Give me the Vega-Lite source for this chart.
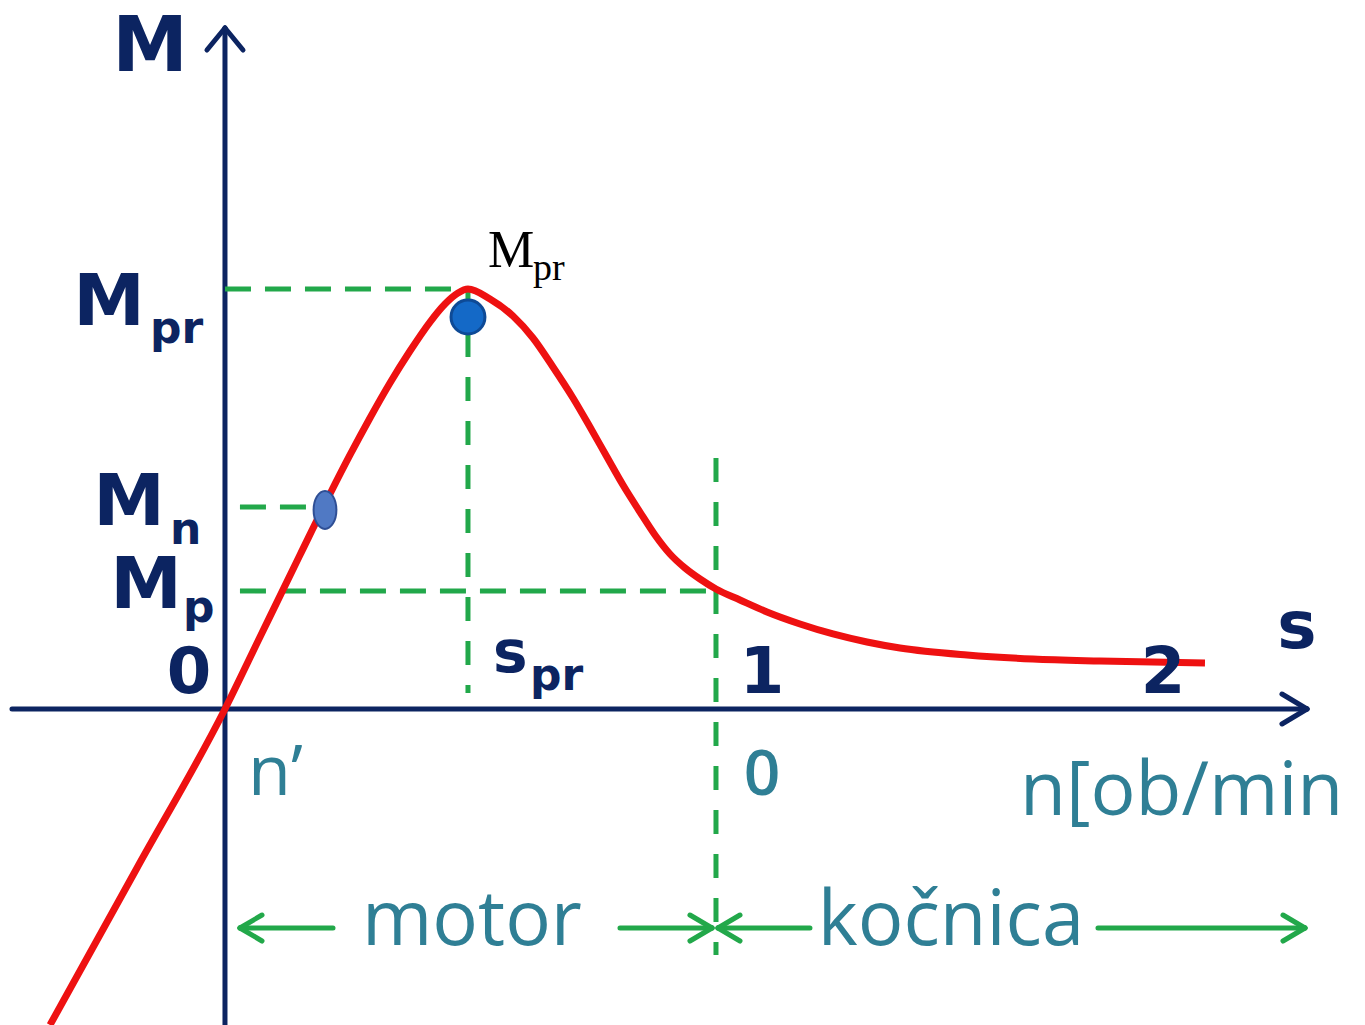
{
  "$schema": "https://vega.github.io/schema/vega-lite/v6.json",
  "width": 1365,
  "height": 1025,
  "padding": 0,
  "autosize": {"type": "none"},
  "background": "white",
  "config": {"view": {"stroke": null}},
  "datasets": {
    "curve": [
      {"s": -0.3564, "M": -0.7524},
      {"s": -0.1792, "M": -0.3786},
      {"s": 0, "M": 0},
      {"s": 0.0713, "M": 0.1714},
      {"s": 0.1527, "M": 0.3667},
      {"s": 0.2138, "M": 0.5119},
      {"s": 0.2546, "M": 0.6048},
      {"s": 0.2953, "M": 0.6929},
      {"s": 0.336, "M": 0.7762},
      {"s": 0.3768, "M": 0.8524},
      {"s": 0.4175, "M": 0.9214},
      {"s": 0.4481, "M": 0.9643},
      {"s": 0.4745, "M": 0.9905},
      {"s": 0.4949, "M": 1.0},
      {"s": 0.5397, "M": 0.9762},
      {"s": 0.5866, "M": 0.9357},
      {"s": 0.6273, "M": 0.8833},
      {"s": 0.668, "M": 0.8143},
      {"s": 0.7088, "M": 0.7405},
      {"s": 0.7434, "M": 0.6714},
      {"s": 0.778, "M": 0.6},
      {"s": 0.8106, "M": 0.5333},
      {"s": 0.8452, "M": 0.469},
      {"s": 0.8758, "M": 0.4143},
      {"s": 0.9063, "M": 0.369},
      {"s": 0.9369, "M": 0.3357},
      {"s": 0.9674, "M": 0.3095},
      {"s": 1.0, "M": 0.2857},
      {"s": 1.0489, "M": 0.2595},
      {"s": 1.1039, "M": 0.231},
      {"s": 1.1711, "M": 0.2024},
      {"s": 1.2383, "M": 0.1786},
      {"s": 1.3075, "M": 0.1595},
      {"s": 1.3747, "M": 0.1452},
      {"s": 1.5112, "M": 0.1286},
      {"s": 1.6456, "M": 0.119},
      {"s": 1.7821, "M": 0.1143},
      {"s": 1.9959, "M": 0.1095}
    ],
    "segments": [
      {"kind": "axis", "s": -0.4338, "s2": 2.2037, "M": 0, "M2": 0},
      {"kind": "axis", "s": 0, "s2": 0, "M": -0.7524, "M2": 1.6214},
      {"kind": "axis", "s": 2.1527, "s2": 2.2037, "M": 0.0357, "M2": 0},
      {"kind": "axis", "s": 2.1527, "s2": 2.2037, "M": -0.0357, "M2": 0},
      {"kind": "axis", "s": -0.0367, "s2": 0, "M": 1.569, "M2": 1.6214},
      {"kind": "axis", "s": 0.0367, "s2": 0, "M": 1.569, "M2": 1.6214},
      {"kind": "dashH", "s": 0, "s2": 0.4949, "M": 1, "M2": 1},
      {"kind": "dashH", "s": 0.0305, "s2": 0.2037, "M": 0.481, "M2": 0.481},
      {"kind": "dashH", "s": 0.0305, "s2": 1.0, "M": 0.281, "M2": 0.281},
      {"kind": "dashV", "s": 0.4949, "s2": 0.4949, "M": 1, "M2": 0.038},
      {"kind": "dashV", "s": 1.0, "s2": 1.0, "M": 0.5976, "M2": -0.5857},
      {"kind": "arrow", "s": 0.0305, "s2": 0.22, "M": -0.5214, "M2": -0.5214},
      {"kind": "arrow", "s": 0.0754, "s2": 0.0305, "M": -0.4905, "M2": -0.5214},
      {"kind": "arrow", "s": 0.0754, "s2": 0.0305, "M": -0.5524, "M2": -0.5214},
      {"kind": "arrow", "s": 0.8045, "s2": 0.9919, "M": -0.5214, "M2": -0.5214},
      {"kind": "arrow", "s": 0.947, "s2": 0.9919, "M": -0.4905, "M2": -0.5214},
      {"kind": "arrow", "s": 0.947, "s2": 0.9919, "M": -0.5524, "M2": -0.5214},
      {"kind": "arrow", "s": 1.0041, "s2": 1.1914, "M": -0.5214, "M2": -0.5214},
      {"kind": "arrow", "s": 1.0489, "s2": 1.0041, "M": -0.4905, "M2": -0.5214},
      {"kind": "arrow", "s": 1.0489, "s2": 1.0041, "M": -0.5524, "M2": -0.5214},
      {"kind": "arrow", "s": 1.778, "s2": 2.1996, "M": -0.5214, "M2": -0.5214},
      {"kind": "arrow", "s": 2.1548, "s2": 2.1996, "M": -0.4905, "M2": -0.5214},
      {"kind": "arrow", "s": 2.1548, "s2": 2.1996, "M": -0.5524, "M2": -0.5214}
    ],
    "points": [
      {"kind": "max", "s": 0.4949, "M": 0.9333},
      {"kind": "nominal", "s": 0.2037, "M": 0.474}
    ],
    "labels": [
      {"kind": "bigM", "text": "M", "s": -0.1527, "M": 1.519},
      {"kind": "leftM", "text": "M", "s": -0.163, "M": 0.914},
      {"kind": "leftM", "text": "M", "s": -0.1222, "M": 0.438},
      {"kind": "leftM", "text": "M", "s": -0.0876, "M": 0.240},
      {"kind": "leftSub", "text": "pr", "s": -0.1527, "M": 0.871},
      {"kind": "leftSub", "text": "n", "s": -0.112, "M": 0.392},
      {"kind": "leftSub", "text": "p", "s": -0.0855, "M": 0.207},
      {"kind": "digit", "text": "0", "s": -0.0733, "M": 0.038},
      {"kind": "digit", "text": "1", "s": 1.0937, "M": 0.038},
      {"kind": "digit", "text": "2", "s": 1.9104, "M": 0.038},
      {"kind": "sAxis", "text": "s", "s": 2.1833, "M": 0.145},
      {"kind": "sMain", "text": "s", "s": 0.5458, "M": 0.0881},
      {"kind": "sSub", "text": "pr", "s": 0.6212, "M": 0.045},
      {"kind": "teal", "text": "n\u2019", "s": 0.047, "M": -0.2048},
      {"kind": "tealDigit", "text": "0", "s": 1.0937, "M": -0.2048},
      {"kind": "tealWide", "text": "n[ob/min", "s": 1.6191, "M": -0.2524},
      {"kind": "tealBig", "text": "motor", "s": 0.503, "M": -0.5619},
      {"kind": "tealBig", "text": "ko\u010dnica", "s": 1.4786, "M": -0.5619},
      {"kind": "serifM", "text": "M", "s": 0.5356, "M": 1.0524},
      {"kind": "serifSub", "text": "pr", "s": 0.6273, "M": 1.0214}
    ]
  },
  "encoding": {
    "x": {"field": "s", "type": "quantitative", "scale": {"domain": [-0.4582, 2.3218], "nice": false, "zero": false}, "axis": null},
    "y": {"field": "M", "type": "quantitative", "scale": {"domain": [-0.7524, 1.6881], "nice": false, "zero": false}, "axis": null}
  },
  "layer": [
    {
      "data": {"name": "segments"},
      "transform": [{"filter": "datum.kind === 'axis'"}],
      "mark": {"type": "rule", "color": "#0c2461", "strokeWidth": 5, "strokeCap": "round"},
      "encoding": {"x2": {"field": "s2"}, "y2": {"field": "M2"}}
    },
    {
      "data": {"name": "segments"},
      "transform": [{"filter": "datum.kind === 'dashH'"}],
      "mark": {"type": "rule", "color": "#22a84a", "strokeWidth": 5, "strokeDash": [26, 14]},
      "encoding": {"x2": {"field": "s2"}, "y2": {"field": "M2"}}
    },
    {
      "data": {"name": "segments"},
      "transform": [{"filter": "datum.kind === 'dashV'"}],
      "mark": {"type": "rule", "color": "#22a84a", "strokeWidth": 5, "strokeDash": [24, 20]},
      "encoding": {"x2": {"field": "s2"}, "y2": {"field": "M2"}}
    },
    {
      "data": {"name": "segments"},
      "transform": [{"filter": "datum.kind === 'arrow'"}],
      "mark": {"type": "rule", "color": "#22a84a", "strokeWidth": 5, "strokeCap": "round"},
      "encoding": {"x2": {"field": "s2"}, "y2": {"field": "M2"}}
    },
    {
      "data": {"name": "curve"},
      "mark": {"type": "line", "color": "#ee1111", "strokeWidth": 7, "interpolate": "monotone", "strokeJoin": "round"},
      "encoding": {}
    },
    {
      "data": {"name": "points"},
      "transform": [{"filter": "datum.kind === 'max'"}],
      "mark": {"type": "point", "shape": "circle", "filled": true, "fill": "#1469c7", "stroke": "#0e4a96", "strokeWidth": 3, "size": 1150, "opacity": 1}
    },
    {
      "data": {"name": "points"},
      "transform": [{"filter": "datum.kind === 'nominal'"}],
      "mark": {"type": "point", "shape": "M -0.6 0 A 0.6 1 0 1 0 0.6 0 A 0.6 1 0 1 0 -0.6 0 Z", "filled": true, "fill": "#5079c4", "stroke": "#2f4f95", "strokeWidth": 2, "size": 1444, "opacity": 1}
    },
    {
      "data": {"name": "labels"},
      "transform": [{"filter": "datum.kind === 'bigM'"}],
      "mark": {"type": "text", "font": "DejaVu Sans", "fontWeight": "bold", "fontSize": 76, "color": "#0c2461", "align": "center", "baseline": "alphabetic"},
      "encoding": {"text": {"field": "text"}}
    },
    {
      "data": {"name": "labels"},
      "transform": [{"filter": "datum.kind === 'leftM'"}],
      "mark": {"type": "text", "font": "DejaVu Sans", "fontWeight": "bold", "fontSize": 72, "color": "#0c2461", "align": "right", "baseline": "alphabetic"},
      "encoding": {"text": {"field": "text"}}
    },
    {
      "data": {"name": "labels"},
      "transform": [{"filter": "datum.kind === 'leftSub'"}],
      "mark": {"type": "text", "font": "DejaVu Sans", "fontWeight": "bold", "fontSize": 44, "color": "#0c2461", "align": "left", "baseline": "alphabetic"},
      "encoding": {"text": {"field": "text"}}
    },
    {
      "data": {"name": "labels"},
      "transform": [{"filter": "datum.kind === 'digit'"}],
      "mark": {"type": "text", "font": "DejaVu Sans", "fontWeight": "bold", "fontSize": 64, "color": "#0c2461", "align": "center", "baseline": "alphabetic"},
      "encoding": {"text": {"field": "text"}}
    },
    {
      "data": {"name": "labels"},
      "transform": [{"filter": "datum.kind === 'sAxis'"}],
      "mark": {"type": "text", "font": "DejaVu Sans", "fontWeight": "bold", "fontSize": 66, "color": "#0c2461", "align": "center", "baseline": "alphabetic"},
      "encoding": {"text": {"field": "text"}}
    },
    {
      "data": {"name": "labels"},
      "transform": [{"filter": "datum.kind === 'sMain'"}],
      "mark": {"type": "text", "font": "DejaVu Sans", "fontWeight": "bold", "fontSize": 58, "color": "#0c2461", "align": "left", "baseline": "alphabetic"},
      "encoding": {"text": {"field": "text"}}
    },
    {
      "data": {"name": "labels"},
      "transform": [{"filter": "datum.kind === 'sSub'"}],
      "mark": {"type": "text", "font": "DejaVu Sans", "fontWeight": "bold", "fontSize": 44, "color": "#0c2461", "align": "left", "baseline": "alphabetic"},
      "encoding": {"text": {"field": "text"}}
    },
    {
      "data": {"name": "labels"},
      "transform": [{"filter": "datum.kind === 'teal'"}],
      "mark": {"type": "text", "font": "Open Sans", "fontSize": 70, "color": "#2f7f95", "align": "left", "baseline": "alphabetic"},
      "encoding": {"text": {"field": "text"}}
    },
    {
      "data": {"name": "labels"},
      "transform": [{"filter": "datum.kind === 'tealWide'"}],
      "mark": {"type": "text", "font": "Open Sans", "fontSize": 75, "color": "#2f7f95", "align": "left", "baseline": "alphabetic"},
      "encoding": {"text": {"field": "text"}}
    },
    {
      "data": {"name": "labels"},
      "transform": [{"filter": "datum.kind === 'tealDigit'"}],
      "mark": {"type": "text", "font": "Open Sans", "fontWeight": 600, "fontSize": 64, "color": "#2f7f95", "align": "center", "baseline": "alphabetic"},
      "encoding": {"text": {"field": "text"}}
    },
    {
      "data": {"name": "labels"},
      "transform": [{"filter": "datum.kind === 'tealBig'"}],
      "mark": {"type": "text", "font": "Open Sans", "fontSize": 76, "color": "#2f7f95", "align": "center", "baseline": "alphabetic"},
      "encoding": {"text": {"field": "text"}}
    },
    {
      "data": {"name": "labels"},
      "transform": [{"filter": "datum.kind === 'serifM'"}],
      "mark": {"type": "text", "font": "Liberation Serif", "fontSize": 52, "color": "#000000", "align": "left", "baseline": "alphabetic"},
      "encoding": {"text": {"field": "text"}}
    },
    {
      "data": {"name": "labels"},
      "transform": [{"filter": "datum.kind === 'serifSub'"}],
      "mark": {"type": "text", "font": "Liberation Serif", "fontSize": 38, "color": "#000000", "align": "left", "baseline": "alphabetic"},
      "encoding": {"text": {"field": "text"}}
    }
  ]
}
